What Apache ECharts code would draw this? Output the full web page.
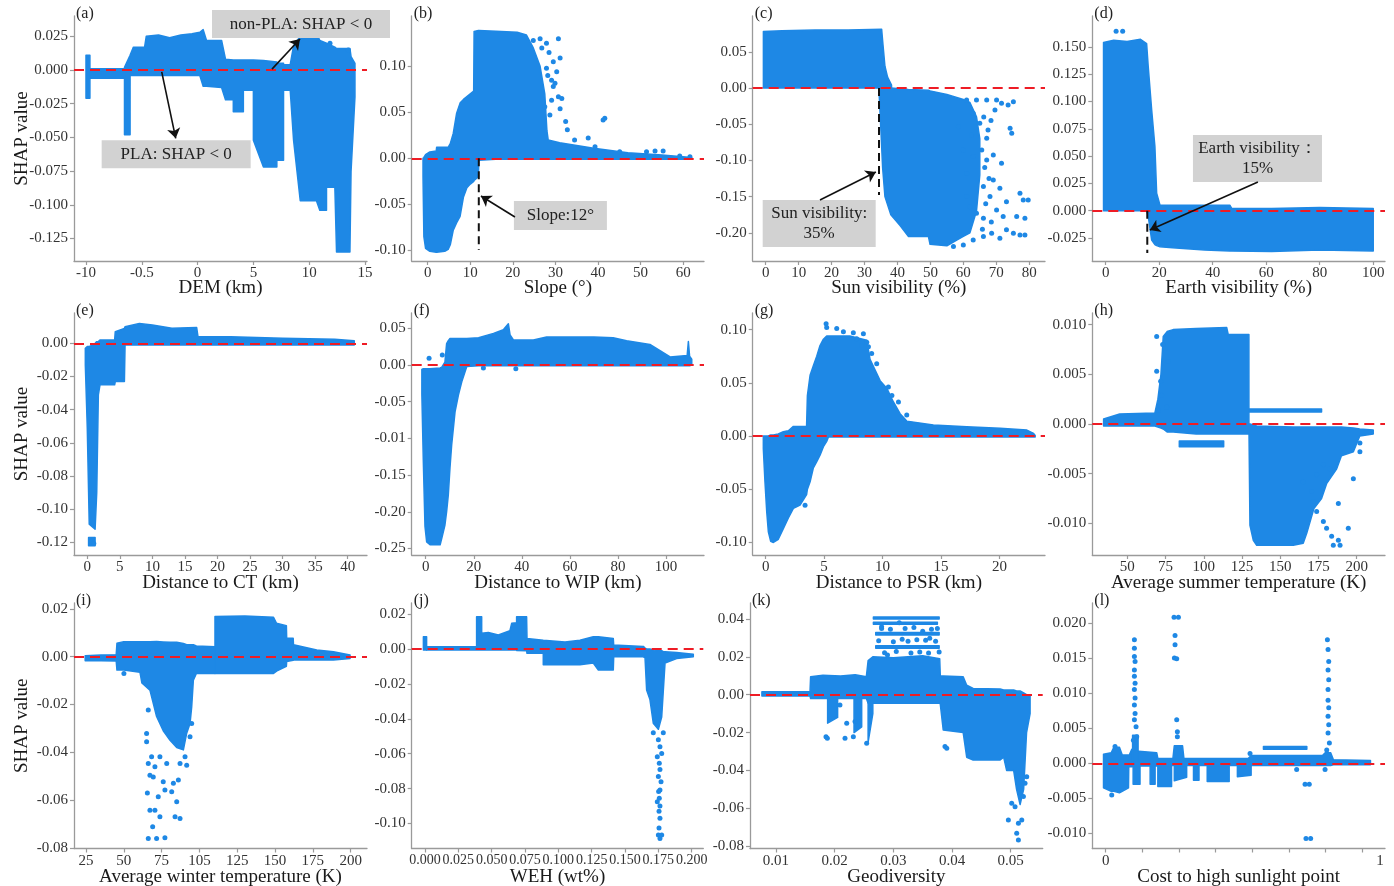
<!DOCTYPE html>
<html><head><meta charset="utf-8">
<script src="https://cdn.jsdelivr.net/npm/echarts@6/dist/echarts.min.js"></script>
<style>html,body{margin:0;padding:0;background:#fff}#c{width:1394px;height:886px}</style>
</head><body><div id="c"></div>
<script>
// ---------------- DATA ----------------
const panelLetters = ['(a)','(b)','(c)','(d)','(e)','(f)','(g)','(h)','(i)','(j)','(k)','(l)'];
const xTitles = ['DEM (km)','Slope (°)','Sun visibility (%)','Earth visibility (%)','Distance to CT (km)','Distance to WIP (km)','Distance to PSR (km)','Average summer temperature (K)','Average winter temperature (K)','WEH (wt%)','Geodiversity','Cost to high sunlight point'];
const yTitle = 'SHAP value';

const xTickVals = [
 [0,1,2,3,4,5],
 [0,10,20,30,40,50,60],
 [0,10,20,30,40,50,60,70,80],
 [0,20,40,60,80,100],
 [0,5,10,15,20,25,30,35,40],
 [0,20,40,60,80,100],
 [0,5,10,15,20],
 [50,75,100,125,150,175,200],
 [25,50,75,100,125,150,175,200],
 [0,0.025,0.05,0.075,0.1,0.125,0.15,0.175,0.2],
 [0.01,0.02,0.03,0.04,0.05],
 [0,1]
];
const xTickText = [
 ['-10','-0.5','0','5','10','15'],
 ['0','10','20','30','40','50','60'],
 ['0','10','20','30','40','50','60','70','80'],
 ['0','20','40','60','80','100'],
 ['0','5','10','15','20','25','30','35','40'],
 ['0','20','40','60','80','100'],
 ['0','5','10','15','20'],
 ['50','75','100','125','150','175','200'],
 ['25','50','75','105','125','150','175','200'],
 ['0.000','0.025','0.050','0.075','0.100','0.125','0.150','0.175','0.200'],
 ['0.01','0.02','0.03','0.04','0.05'],
 ['0','1']
];
const costMinorTicks = [0,0.1336,0.2672,0.4008,0.5344,0.668,0.8016,0.9352];

const yTickVals = [
 [-0.125,-0.1,-0.075,-0.05,-0.025,0,0.025],
 [-0.1,-0.05,0,0.05,0.1],
 [-0.2,-0.15,-0.1,-0.05,0,0.05],
 [-0.025,0,0.025,0.05,0.075,0.1,0.125,0.15],
 [-0.12,-0.1,-0.08,-0.06,-0.04,-0.02,0],
 [-0.25,-0.2,-0.15,-0.1,-0.05,0,0.05],
 [-0.1,-0.05,0,0.05,0.1],
 [-0.01,-0.005,0,0.005,0.01],
 [-0.08,-0.06,-0.04,-0.02,0,0.02],
 [-0.1,-0.08,-0.06,-0.04,-0.02,0,0.02],
 [-0.08,-0.06,-0.04,-0.02,0,0.02,0.04],
 [-0.01,-0.005,0,0.005,0.01,0.015,0.02]
];
const yTickText = [
 ['-0.125','-0.100','-0.075','-0.050','-0.025','0.000','0.025'],
 ['-0.10','-0.05','0.00','0.05','0.10'],
 ['-0.20','-0.15','-0.10','-0.05','0.00','0.05'],
 ['-0.025','0.000','0.025','0.050','0.075','0.100','0.125','0.150'],
 ['-0.12','-0.10','-0.08','-0.06','-0.04','-0.02','0.00'],
 ['-0.25','-0.20','-0.15','-0.01','-0.05','0.00','0.05'],
 ['-0.10','-0.05','0.00','0.05','0.10'],
 ['-0.010','-0.005','0.000','0.005','0.010'],
 ['-0.08','-0.06','-0.04','-0.02','0.00','0.02'],
 ['-0.10','-0.08','-0.06','-0.04','-0.02','0.00','0.02'],
 ['-0.08','-0.06','-0.04','-0.02','0.00','0.02','0.04'],
 ['-0.010','-0.005','0.000','0.005','0.010','0.015','0.020']
];

// dense point clouds: segments of [feature value, lowest SHAP, highest SHAP]
const envA = [
 [[0.0,-0.021,0.011],[0.07,-0.021,0.011]],
 [[0.07,-0.006,0.001],[0.69,-0.006,0.001],[0.69,-0.048,0.002],[0.79,-0.048,0.011],[0.79,-0.004,0.011],[0.85,-0.004,0.017],[1.05,-0.004,0.017],[1.08,-0.004,0.025],[1.3,-0.004,0.026],[1.5,-0.004,0.024],[1.7,-0.004,0.026],[1.9,-0.004,0.027],[2.04,-0.004,0.028],[2.1,-0.012,0.03],[2.16,-0.012,0.022],[2.43,-0.013,0.022],[2.5,-0.022,0.008],[2.64,-0.022,0.0075],[2.64,-0.031,0.0075],[2.82,-0.031,0.0075],[2.82,-0.015,0.0075],[3.0,-0.015,0.0075],[3.0,-0.052,0.0075],[3.18,-0.072,0.007],[3.42,-0.072,0.006],[3.42,-0.067,0.005],[3.54,-0.067,0.005],[3.54,-0.015,0.004],[3.66,-0.015,0.004],[3.72,-0.052,0.018],[3.84,-0.097,0.025],[4.13,-0.097,0.027],[4.19,-0.104,0.022],[4.31,-0.104,0.02],[4.31,-0.087,0.02],[4.46,-0.087,0.017],[4.49,-0.135,0.016],[4.73,-0.135,0.016],[4.75,-0.075,0.01],[4.82,-0.02,0.005]]
];
const envB = [
 [[-1.1,-0.02,0.0],[-0.9,-0.085,0.001],[-0.5,-0.098,0.004],[0.5,-0.101,0.007],[2.0,-0.102,0.008],[2.1,-0.102,0.012],[4.0,-0.101,0.012],[4.8,-0.099,0.012],[5.3,-0.094,0.016],[6.0,-0.078,0.027],[6.8,-0.07,0.049],[7.6,-0.063,0.06],[8.4,-0.042,0.064],[9.2,-0.032,0.067],[10.0,-0.028,0.07],[10.8,-0.025,0.073],[10.9,-0.024,0.138],[11.9,-0.02,0.139],[12.0,-0.002,0.139],[16,-0.001,0.138],[21,-0.001,0.137],[23.2,-0.001,0.134],[24.8,-0.001,0.12],[26.4,-0.001,0.1],[27.5,-0.001,0.07],[28.0,-0.001,0.03],[28.3,-0.001,0.02],[31,-0.001,0.017],[39,-0.001,0.011],[47,-0.001,0.006],[55,-0.001,0.0035],[62,-0.001,0.001]]
];
const envC = [
 [[-0.7,0,0.078],[5,0,0.079],[15,0,0.08],[25,0,0.08],[35.2,0,0.081],[35.6,0,0.06],[36.2,0,0.03],[37,0,0.015],[38.2,0,0.004]],
 [[34.4,-0.004,0.0],[35,-0.06,0.0],[35.5,-0.11,0.0],[36.2,-0.15,0.0],[38,-0.175,0.0],[40.8,-0.19,-0.001],[43.3,-0.205,-0.002],[49.4,-0.205,-0.003],[49.9,-0.216,-0.004],[55,-0.218,-0.009],[58,-0.21,-0.013],[60,-0.205,-0.016],[62,-0.2,-0.02],[64,-0.17,-0.04],[65,-0.12,-0.07]]
];
const envD = [
 [[-0.8,0,0.154],[3,0,0.156],[8,0,0.155],[13,0,0.157],[15.3,0,0.153],[15.9,-0.005,0.132],[17.2,-0.027,0.092],[18.4,-0.031,0.0586],[19.05,-0.032,0.016],[20.3,-0.033,0.005],[25,-0.034,0.005],[37,-0.036,0.005],[46.4,-0.037,0.005],[47.1,-0.037,0.002],[62,-0.0375,0.002],[80,-0.036,0.003],[100,-0.037,0.002]]
];
const envE = [
 [[-0.3,-0.013,-0.003],[0,-0.051,-0.002],[0.3,-0.109,-0.002],[1.2,-0.112,0.0],[1.45,-0.09,0.001],[1.7,-0.031,0.001],[1.95,-0.025,0.002],[4.2,-0.025,0.002],[4.3,-0.023,0.007],[5.7,-0.023,0.009],[5.8,-0.001,0.01],[8,-0.001,0.012],[10,-0.001,0.011],[13,-0.001,0.009],[16.8,-0.001,0.0095],[17.0,-0.001,0.004],[22,-0.001,0.004],[30,-0.001,0.003],[38,-0.001,0.0024],[41,-0.001,0.0015]],
 [[0.2,-0.122,-0.117],[1.2,-0.122,-0.117]]
];
const envF = [
 [[-1.6,-0.04,-0.006],[-1.0,-0.13,-0.005],[-0.3,-0.22,-0.005],[0.4,-0.241,-0.005],[1.8,-0.245,-0.005],[6.0,-0.245,-0.004],[6.7,-0.236,-0.003],[8.0,-0.218,0.004],[8.7,-0.2,0.029],[9.4,-0.177,0.033],[10.1,-0.14,0.036],[10.8,-0.109,0.036],[12.2,-0.064,0.036],[13.6,-0.041,0.036],[15.0,-0.023,0.036],[16.4,-0.009,0.036],[17.1,-0.002,0.036],[22,-0.001,0.037],[28.2,-0.001,0.043],[32.3,-0.001,0.048],[34.4,-0.001,0.056],[35.1,-0.001,0.041],[36.5,-0.001,0.034],[44.8,-0.001,0.034],[50.3,-0.001,0.038],[60,-0.001,0.038],[70,-0.001,0.038],[78,-0.001,0.037],[83.6,-0.001,0.033],[93.3,-0.001,0.028],[101.7,-0.001,0.011],[108.8,-0.001,0.013],[109.3,-0.001,0.032],[109.8,-0.001,0.012],[110.7,0.0,0.008]]
];
const envG = [
 [[-0.2,-0.012,0.0],[-0.06,-0.043,0.0],[0.09,-0.071,0.0],[0.23,-0.09,0.0],[0.43,-0.099,0.001],[0.66,-0.1,0.001],[1.08,-0.097,0.002],[1.51,-0.087,0.004],[1.94,-0.077,0.005],[2.37,-0.068,0.009],[2.94,-0.065,0.009],[3.22,-0.06,0.009],[3.5,-0.055,0.009],[3.57,-0.05,0.038],[3.8,-0.043,0.057],[4.08,-0.03,0.066],[4.37,-0.024,0.075],[4.65,-0.018,0.085],[4.94,-0.01,0.091],[5.22,-0.005,0.094],[5.37,-0.001,0.094],[7.2,-0.001,0.094],[8.65,-0.001,0.09],[8.93,-0.001,0.072],[9.79,-0.001,0.052],[10.36,-0.001,0.045],[10.93,-0.001,0.032],[11.5,-0.001,0.021],[12.07,-0.001,0.014],[14.35,-0.001,0.0103],[17.2,-0.001,0.0087],[20.06,-0.001,0.0072],[22.35,-0.001,0.0056],[22.92,-0.001,0.0025],[23.06,-0.001,0.0005]]
];
const envH = [
 [[34.5,-0.0002,0.0005],[45,-0.0002,0.001],[68,-0.0002,0.0011],[70,-0.0003,0.0025],[72,-0.0004,0.005],[73.5,-0.0005,0.0088],[76,-0.0008,0.0093],[80,-0.0008,0.0095],[95,-0.001,0.0096],[115,-0.001,0.0097],[116,-0.001,0.009],[129.5,-0.001,0.009]],
 [[84,-0.0023,-0.0017],[113,-0.0023,-0.0017]],
 [[129.5,0.0012,0.0015],[177,0.0012,0.0015]],
 [[129.6,-0.0012,0.0],[130.2,-0.0102,0.0],[132.4,-0.0117,-0.0001],[134.6,-0.0122,-0.0002],[158.5,-0.0122,-0.0003],[165,-0.012,-0.0003],[167.3,-0.011,-0.0003],[172,-0.0085,-0.0003],[177,-0.0075,-0.0003],[180.3,-0.006,-0.0003],[186.9,-0.0045,-0.0003],[190,-0.0032,-0.0003],[197.8,-0.0028,-0.0004],[202,-0.0012,-0.0005],[210.8,-0.001,-0.0006]]
];
const envI = [
 [[24.5,-0.0017,0.0004],[35,-0.0017,0.0007],[45,-0.0018,0.0008],[45.5,-0.0056,0.0056],[50,-0.0056,0.0063],[60.7,-0.0065,0.0063],[62,-0.011,0.0063],[67.3,-0.014,0.0063],[71.7,-0.025,0.0064],[76.1,-0.031,0.0062],[80.6,-0.035,0.006],[85,-0.038,0.006],[89.4,-0.039,0.0055],[91.6,-0.032,0.005],[93.8,-0.028,0.005],[94.9,-0.021,0.005],[96,-0.0098,0.005],[98,-0.007,0.0045],[110.3,-0.007,0.0042]],
 [[110.3,-0.007,0.0168],[130,-0.007,0.017],[149,-0.007,0.0165],[151,-0.006,0.014],[157.5,-0.004,0.013],[157.7,-0.002,0.0077],[162,-0.0015,0.0077],[162.2,-0.0014,0.005],[177.6,-0.0014,0.0028],[188.6,-0.0014,0.0021],[199.6,-0.0008,0.0007]]
];
const envJ = [
 [[-0.0012,-0.0005,0.007],[0.0012,-0.0005,0.007]],
 [[0.0012,-0.0006,0.0013],[0.0387,-0.0006,0.0013],[0.0387,-0.0005,0.0185],[0.0425,-0.0005,0.0185],[0.0425,-0.0005,0.009],[0.0475,-0.0005,0.0095],[0.055,-0.0005,0.008],[0.0637,-0.0005,0.0105],[0.065,-0.0005,0.0147],[0.0687,-0.0006,0.015],[0.0687,-0.0008,0.0185],[0.0762,-0.001,0.0185],[0.0765,-0.0025,0.006],[0.0887,-0.0025,0.005],[0.0887,-0.009,0.005],[0.105,-0.009,0.004],[0.1162,-0.009,0.005],[0.1262,-0.008,0.007],[0.13,-0.012,0.007],[0.1412,-0.012,0.006],[0.1415,-0.0045,0.0023],[0.1637,-0.0045,0.0015],[0.165,-0.005,0.0005],[0.1662,-0.0235,0.0],[0.1687,-0.029,0.0],[0.1712,-0.0425,-0.0005],[0.175,-0.046,-0.001],[0.1775,-0.039,-0.001],[0.1787,-0.024,-0.0015],[0.18,-0.008,-0.0015],[0.1887,-0.0055,-0.002],[0.2012,-0.0044,-0.003]]
];
const envK = [
 [[0.0076,-0.0007,0.0016],[0.0158,-0.0007,0.0016],[0.0159,-0.002,0.0095],[0.018,-0.002,0.0102],[0.021,-0.002,0.0098],[0.0235,-0.002,0.0105],[0.0254,-0.002,0.0095],[0.0257,-0.0045,0.018],[0.0265,-0.0045,0.02],[0.03,-0.0045,0.0195],[0.035,-0.0045,0.0205],[0.0379,-0.0045,0.019],[0.038,-0.005,0.0098],[0.0385,-0.0186,0.0098],[0.0419,-0.02,0.0095],[0.0425,-0.033,0.005],[0.0436,-0.0345,0.0033],[0.0482,-0.0345,0.003],[0.0488,-0.033,0.0025],[0.0493,-0.04,0.0025],[0.0505,-0.04,0.0025],[0.051,-0.05,0.002],[0.0516,-0.058,0.002],[0.0522,-0.05,0.001],[0.0527,-0.02,0.0],[0.0533,-0.01,-0.0005]],
 [[0.0266,0.0399,0.041],[0.0378,0.0399,0.041]],
 [[0.0266,0.0372,0.0382],[0.0375,0.0372,0.0382]],
 [[0.027,0.0315,0.0328],[0.0378,0.0315,0.0328]],
 [[0.027,0.0245,0.0258],[0.0378,0.0245,0.0258]],
 [[0.0188,-0.015,-0.002],[0.0205,-0.012,-0.002]],
 [[0.0233,-0.02,-0.002],[0.0246,-0.017,-0.002]],
 [[0.0257,-0.025,-0.004],[0.0265,-0.01,-0.004]]
];
const envL = [
 [[-0.008,-0.0035,0.0013],[0.02,-0.004,0.0015],[0.03,-0.004,0.0023],[0.05,-0.0042,0.0023],[0.06,-0.004,0.0012],[0.083,-0.0035,0.0012],[0.084,-0.0005,0.001],[0.095,-0.0005,0.002],[0.12,-0.0004,0.0017],[0.186,-0.0004,0.0015],[0.19,-0.0003,0.0007],[0.245,-0.0003,0.0007],[0.25,-0.0003,0.0025],[0.28,-0.0003,0.0025],[0.285,-0.0003,0.0007],[0.52,-0.0003,0.0007],[0.53,-0.0003,0.0011],[0.79,-0.0003,0.0011],[0.8,-0.0003,0.0015],[0.82,-0.0003,0.0015],[0.83,-0.0002,0.0005],[0.965,-0.0002,0.0004]],
 [[0.098,0,0.004],[0.118,0,0.004]],
 [[0.575,0.002,0.0024],[0.733,0.002,0.0024]],
 [[0.1,-0.003,-0.0003],[0.125,-0.003,-0.0003]],
 [[0.162,-0.003,-0.0003],[0.18,-0.003,-0.0003]],
 [[0.19,-0.0033,-0.0003],[0.24,-0.0033,-0.0003]],
 [[0.25,-0.0025,-0.0003],[0.295,-0.002,-0.0003]],
 [[0.32,-0.0024,-0.0003],[0.34,-0.0024,-0.0003]],
 [[0.37,-0.0026,-0.0003],[0.45,-0.0026,-0.0003]],
 [[0.48,-0.0019,-0.0003],[0.53,-0.0017,-0.0003]]
];

// sparse individual points: [feature value, SHAP]
const ptsA = [[3.853,0.0255],[4.373,0.0198],[4.70,0.0148]];
const ptsB = [[30.7,0.13],[31.1,0.109],[30.3,0.094],[29.9,0.0815],[30.7,0.067],[31.1,0.054],[28.7,0.047],[32.4,0.04],[32.8,0.031],[34.5,0.02],[37.7,0.022],[41.6,0.0435],[41.2,0.0417],[39.3,0.0127],[45.1,0.0072],[51.4,0.0072],[53.4,0.008],[55.3,0.008],[59.2,0.0025],[61.6,0.0018],[27.9,0.098],[29.1,0.085],[26.8,0.12],[27.9,0.125],[26.4,0.13],[29.5,0.078],[27.5,0.056],[29.1,0.063],[31.5,0.065],[24.8,0.128],[28.5,0.115],[29.5,0.105],[28.2,0.09]];
const ptsC = [[61.0,-0.0166],[63.0,-0.035],[65.0,-0.0488],[62.5,-0.0649],[67.1,-0.0695],[69.6,-0.0304],[70.1,-0.0166],[71.6,-0.0212],[73.6,-0.0235],[75.2,-0.0189],[74.2,-0.0557],[74.7,-0.0626],[71.6,-0.104],[69.1,-0.127],[71.1,-0.1386],[73.1,-0.157],[77.2,-0.1455],[78.2,-0.1547],[79.7,-0.1547],[76.2,-0.1777],[78.7,-0.18],[73.1,-0.196],[75.2,-0.2007],[77.2,-0.203],[78.7,-0.203],[71.1,-0.2076],[68.6,-0.2007],[66.1,-0.18],[64.0,-0.173],[62.0,-0.164],[61.0,-0.15],[67.1,-0.0994],[65.6,-0.0856],[69.1,-0.0925],[61.0,-0.118],[63.0,-0.0948],[68.1,-0.15],[66.1,-0.136],[70.1,-0.1685],[72.1,-0.1777],[60.0,-0.0856],[58.5,-0.0534],[64.0,-0.0166],[67.1,-0.0166],[63.0,-0.21],[60.0,-0.217],[57.0,-0.219],[66.1,-0.205],[66.5,-0.11],[67.8,-0.125],[66.8,-0.16],[68.5,-0.185],[65.8,-0.195],[67.5,-0.058],[66.2,-0.04],[68.4,-0.045]];
const ptsD = [[3.9,0.1644],[6.35,0.1644]];
const ptsE = [[0.5,-0.1195],[1.0,-0.1205]];
const ptsF = [[1.4,0.009],[6.9,0.0136],[24,-0.004],[37.5,-0.005]];
const ptsG = [[5.17,0.1056],[5.22,0.102],[6.08,0.101],[6.65,0.098],[7.5,0.097],[8.36,0.096],[7.79,0.0915],[8.2,0.085],[8.79,0.084],[9.5,0.068],[10.5,0.046],[10.8,0.038],[11.36,0.032],[12.07,0.0197],[9.07,0.0775],[8.65,0.088],[3.37,-0.065]];
const ptsH = [[69.2,0.0088],[73.1,0.008],[74.6,0.0076],[76.8,0.0063],[69.2,0.0053],[71.8,0.0043],[72.4,0.0029],[70.3,0.0014],[75.7,0.0017],[165,-0.0058],[171.6,-0.0078],[173.8,-0.0088],[178.2,-0.0098],[180.3,-0.0105],[183.6,-0.0113],[188,-0.0117],[184.7,-0.0122],[189.1,-0.0122],[194.5,-0.0105],[188,-0.008],[197.8,-0.0055],[202.1,-0.0019],[202.1,-0.0028],[178.2,-0.0041],[182.5,-0.0045],[173.8,-0.0051],[170.5,-0.0068]];
const ptsI = [[66.2,-0.0223],[65.1,-0.0321],[65.1,-0.0356],[66.2,-0.0447],[67.3,-0.0496],[65.6,-0.057],[67.3,-0.0642],[70.6,-0.0642],[73.9,-0.067],[69.1,-0.0712],[66.2,-0.0761],[71.7,-0.0761],[77.2,-0.0757],[72.8,-0.0586],[77.2,-0.0558],[81.7,-0.0565],[85,-0.0607],[83.9,-0.067],[87.2,-0.0677],[82.8,-0.053],[86.1,-0.0516],[87.2,-0.0447],[90.5,-0.0419],[91.6,-0.0454],[68.4,-0.0419],[70.6,-0.046],[73.9,-0.0419],[78.4,-0.0447],[69.5,-0.0503],[76.1,-0.0523],[94.9,-0.0279],[93.8,-0.0335],[50.1,-0.007]];
const ptsJ = [[0.175,-0.052],[0.1762,-0.056],[0.1742,-0.0617],[0.1757,-0.0655],[0.1762,-0.069],[0.175,-0.073],[0.177,-0.076],[0.1752,-0.0817],[0.1757,-0.0855],[0.1762,-0.09],[0.1755,-0.093],[0.1755,-0.1025],[0.175,-0.1065],[0.1762,-0.1085],[0.1775,-0.1065],[0.1712,-0.048],[0.1787,-0.048],[0.1775,-0.0598],[0.1762,-0.0808],[0.1742,-0.0875],[0.1762,-0.097]];
const ptsK = [[0.01852,-0.0222],[0.01875,-0.023],[0.02176,-0.023],[0.02318,-0.0222],[0.02545,-0.0257],[0.02205,-0.0151],[0.02347,-0.0142],[0.0209,-0.0055],[0.0388,-0.0274],[0.0391,-0.0283],[0.05131,-0.0679],[0.05188,-0.0661],[0.05131,-0.0767],[0.05102,-0.0732],[0.05074,-0.0591],[0.05017,-0.0573],[0.05216,-0.0538],[0.05244,-0.0468],[0.05273,-0.0433],[0.0496,-0.0661],[0.028,0.035],[0.03,0.028],[0.032,0.035],[0.034,0.029],[0.036,0.022],[0.029,0.021],[0.033,0.022],[0.0375,0.035],[0.031,0.038],[0.035,0.0335],[0.0275,0.0285],[0.0285,0.0222],[0.0295,0.0345],[0.0305,0.0228],[0.0315,0.0292],[0.0325,0.0282],[0.0335,0.0355],[0.0345,0.0225],[0.0355,0.0288],[0.0365,0.0345],[0.0372,0.0282],[0.0378,0.0225],[0.028,0.0358],[0.0362,0.0298]];
const ptsL = [[0.1045,0.0176],[0.1045,0.0164],[0.1045,0.0152],[0.107,0.0145],[0.1045,0.0133],[0.1045,0.0124],[0.107,0.0114],[0.1045,0.0105],[0.107,0.0093],[0.1045,0.0083],[0.107,0.0071],[0.1045,0.0062],[0.1106,0.0052],[0.113,0.0038],[0.1008,0.0033],[0.249,0.0208],[0.265,0.0208],[0.2527,0.0182],[0.2527,0.0169],[0.2503,0.015],[0.2588,0.0149],[0.2588,0.0062],[0.2612,0.0045],[0.2612,0.0038],[0.808,0.0176],[0.8104,0.0162],[0.8129,0.0145],[0.8104,0.0133],[0.8129,0.0119],[0.8104,0.0105],[0.8104,0.009],[0.8129,0.0079],[0.8104,0.0067],[0.8129,0.0055],[0.8104,0.0043],[0.8153,0.0029],[0.8056,0.0019],[0.7266,-0.003],[0.742,-0.003],[0.730,-0.0107],[0.747,-0.0107],[0.696,-0.0009],[0.7995,-0.0009],[0.526,0.0014],[0.034,0.0024],[0.0219,-0.0045]];

// annotations (anchors in data units)
const annBoxes = [
 {panel:0, at:[3.853,0.0341], text:'non-PLA: SHAP < 0'},
 {panel:0, at:[1.616,-0.0625], text:'PLA: SHAP < 0'},
 {panel:1, at:[31.17,-0.0622], text:'Slope:12°'},
 {panel:2, at:[16.24,-0.1872], text:'Sun visibility:\n35%'},
 {panel:3, at:[56.73,0.0478], text:'Earth visibility：\n15%'}
];
const annArrows = [
 {panel:0, from:[3.333,0.0007], to:[3.835,0.023]},
 {panel:0, from:[1.357,-0.0013], to:[1.608,-0.0507]},
 {panel:1, from:[20.49,-0.0638], to:[12.51,-0.041]},
 {panel:2, from:[16.48,-0.1547], to:[33.45,-0.116]},
 {panel:3, from:[56.9,0.0263], to:[16.5,-0.0177]}
];
const thresholds = [
 {panel:1, x:12, from:0, to:-0.0997},
 {panel:2, x:34.4, from:0, to:-0.148},
 {panel:3, x:15.55, from:0, to:-0.0387}
];

// ---------------- LAYOUT / STYLE ----------------
const BLUE = '#1E88E5', RED = '#EE1C25', AXIS = '#9a9a9a';
const FONT = '"Liberation Serif","Times New Roman",serif';
const layout = [
 [74,16,293,245],[411.7,16,292.3,245],[752.7,16,292.3,245],[1092.3,16,292.7,245],
 [74,313,293,242],[411.7,313,292.3,242],[752.7,313,292.3,242],[1092.3,313,292.7,242],
 [74,603,293,245.5],[411.7,603,291.6,245.5],[750,603,292.7,245.5],[1092.3,603,292.7,245.5]
];
const xRange = [[-0.215,5.036],[-3.76,64.9],[-3.95,84.8],[-5.0,104.4],[-2.04,42.96],[-5.83,115.8],[-1.11,23.9],[27.1,218.5],[17.1,210.8],[-0.00997,0.2087],[0.00557,0.05545],[-0.0489,1.018]];
const yRange = [[-0.1417,0.0401],[-0.1116,0.1547],[-0.239,0.0994],[-0.0461,0.1783],[-0.1275,0.01825],[-0.2589,0.0708],[-0.1118,0.1156],[-0.01318,0.01117],[-0.08025,0.02247],[-0.1143,0.02636],[-0.0812,0.0484],[-0.01214,0.02284]];
const boxSize = [[178,28],[149,28],[93,29],[113,47],[129,47]];
const nameGapRow = [18,19,19];

const envs = [envA,envB,envC,envD,envE,envF,envG,envH,envI,envJ,envK,envL];
const pts = [ptsA,ptsB,ptsC,ptsD,ptsE,ptsF,ptsG,ptsH,ptsI,ptsJ,ptsK,ptsL];

function lookup(vals, texts, v){
  let k = 0, best = Infinity;
  vals.forEach((t,j)=>{ const d = Math.abs(t - v); if (d < best){ best = d; k = j; } });
  return texts[k];
}
function envSeries(i){
  const rows = [];
  envs[i].forEach((seg, si) => seg.forEach(p => rows.push([p[0], p[1], p[2], si])));
  return {
    type:'custom', xAxisIndex:i, yAxisIndex:i, data:rows, encode:{x:0, y:[1,2]},
    clip:true, silent:true, z:2,
    renderItem: function(params, api){
      const idx = params.dataIndex, r = rows[idx];
      if (idx > 0 && rows[idx-1][3] === r[3]) return;
      const up = [], lo = [];
      for (let k = idx; k < rows.length && rows[k][3] === r[3]; k++){
        up.push(api.coord([rows[k][0], rows[k][2]]));
        lo.push(api.coord([rows[k][0], rows[k][1]]));
      }
      return {type:'polygon', shape:{points: up.concat(lo.reverse())},
              style:{fill:BLUE, stroke:BLUE, lineWidth:1.5, lineJoin:'round'}};
    }
  };
}

const option = {animation:false, backgroundColor:'#ffffff', title:[], grid:[], xAxis:[], yAxis:[], series:[]};
for (let i = 0; i < 12; i++){
  const g = layout[i], row = Math.floor(i/4), col = i % 4;
  option.grid.push({left:g[0], top:g[1], width:g[2], height:g[3], containLabel:false, outerBoundsMode:'none'});
  option.title.push({text:panelLetters[i], left:g[0]+2, top:g[1]-10, padding:0,
    textStyle:{fontFamily:FONT, fontSize:16, fontWeight:'normal', color:'#222'}});
  const xt = (i === 11) ? costMinorTicks : xTickVals[i];
  option.xAxis.push({
    type:'value', gridIndex:i, min:xRange[i][0], max:xRange[i][1], position:'bottom',
    name:xTitles[i], nameLocation:'middle', nameGap:nameGapRow[row], nameMoveOverlap:false,
    nameTextStyle:{fontFamily:FONT, fontSize:19, color:'#1a1a1a'},
    axisLine:{show:true, onZero:false, lineStyle:{color:AXIS, width:1.3}},
    axisTick:{show:true, length:4, customValues:xt, lineStyle:{color:AXIS, width:1.2}},
    axisLabel:{customValues:xTickVals[i], formatter:(v)=>lookup(xTickVals[i], xTickText[i], v),
      fontFamily:FONT, fontSize:(i === 9 ? 14 : 15), color:'#333', margin:5},
    splitLine:{show:false}
  });
  option.yAxis.push({
    type:'value', gridIndex:i, min:yRange[i][0], max:yRange[i][1], position:'left',
    name: col === 0 ? yTitle : '', nameLocation:'middle', nameGap:42, nameMoveOverlap:false,
    nameTextStyle:{fontFamily:FONT, fontSize:19, color:'#1a1a1a'},
    axisLine:{show:true, onZero:false, lineStyle:{color:AXIS, width:1.3}},
    axisTick:{show:true, length:4, customValues:yTickVals[i], lineStyle:{color:AXIS, width:1.2}},
    axisLabel:{customValues:yTickVals[i], formatter:(v)=>lookup(yTickVals[i], yTickText[i], v),
      fontFamily:FONT, fontSize:15, color:'#333', margin:6},
    splitLine:{show:false}
  });
  option.series.push(envSeries(i));
  option.series.push({
    type:'scatter', xAxisIndex:i, yAxisIndex:i, data:pts[i], symbolSize:5, silent:true, z:3,
    itemStyle:{color:BLUE, opacity:1},
    markLine:{silent:true, symbol:['none','none'], label:{show:false}, animation:false,
      lineStyle:{color:RED, type:[10,6], width:2}, data:[{yAxis:0}]}
  });
}
thresholds.forEach(t => {
  option.series.push({type:'line', xAxisIndex:t.panel, yAxisIndex:t.panel, data:[[t.x,t.from],[t.x,t.to]],
    symbol:'none', silent:true, z:5, lineStyle:{color:'#111', width:2, type:[8,5]}});
});
annArrows.forEach(a => {
  option.series.push({type:'lines', coordinateSystem:'cartesian2d', xAxisIndex:a.panel, yAxisIndex:a.panel,
    data:[{coords:[a.from, a.to]}], symbol:['none','arrow'], symbolSize:10, silent:true, z:7,
    lineStyle:{color:'#111', width:1.6, opacity:1}});
});
annBoxes.forEach((b, k) => {
  option.series.push({type:'scatter', xAxisIndex:b.panel, yAxisIndex:b.panel, data:[b.at], clip:false,
    symbol:'rect', symbolSize:boxSize[k], silent:true, z:6, itemStyle:{color:'#d2d2d2', opacity:1},
    label:{show:true, position:'inside', formatter:b.text, fontFamily:FONT, fontSize:17, lineHeight:20, color:'#222'}});
});

const chart = echarts.init(document.getElementById('c'), null, {renderer:'canvas'});
chart.setOption(option);
</script>
</body></html>
